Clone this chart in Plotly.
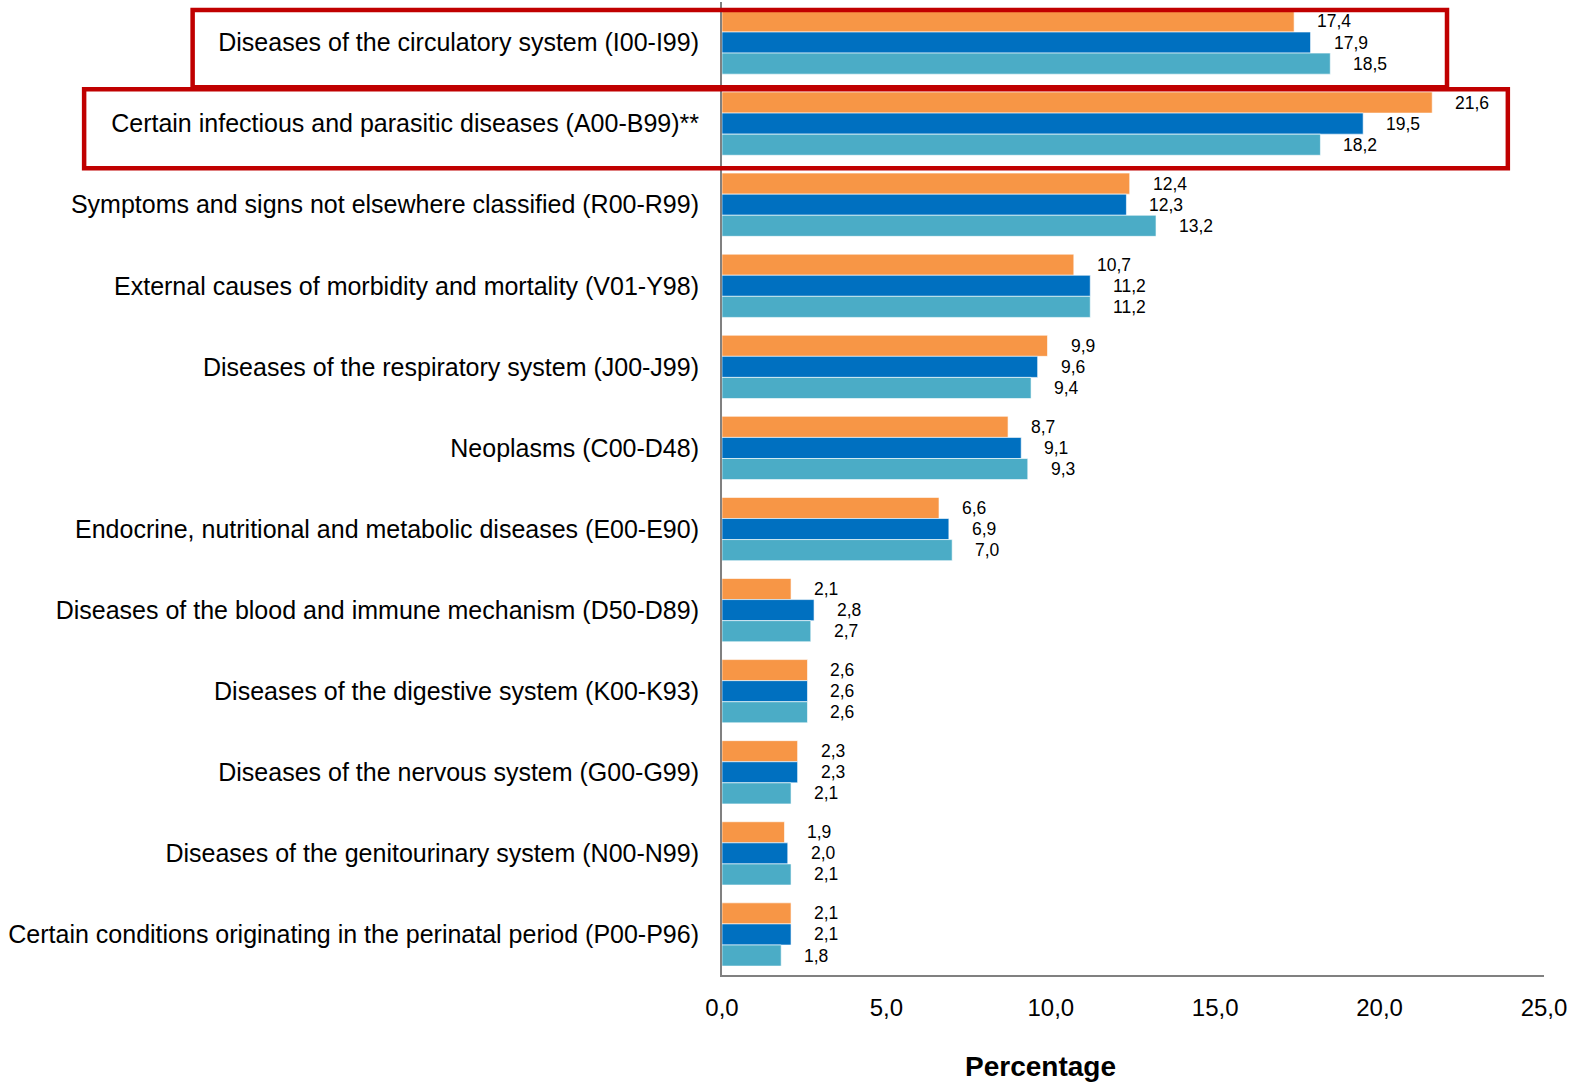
import plotly.graph_objects as go

# Causes of death by ICD-10 chapter, share of all deaths (%)
categories = [
    "Diseases of the circulatory system (I00-I99)",
    "Certain infectious and parasitic diseases (A00-B99)**",
    "Symptoms and signs not elsewhere classified (R00-R99)",
    "External causes of morbidity and mortality (V01-Y98)",
    "Diseases of the respiratory system (J00-J99)",
    "Neoplasms (C00-D48)",
    "Endocrine, nutritional and metabolic diseases (E00-E90)",
    "Diseases of the blood and immune mechanism (D50-D89)",
    "Diseases of the digestive system (K00-K93)",
    "Diseases of the nervous system (G00-G99)",
    "Diseases of the genitourinary system (N00-N99)",
    "Certain conditions originating in the perinatal period (P00-P96)",
]
series_a = [17.4, 21.6, 12.4, 10.7, 9.9, 8.7, 6.6, 2.1, 2.6, 2.3, 1.9, 2.1]
series_b = [17.9, 19.5, 12.3, 11.2, 9.6, 9.1, 6.9, 2.8, 2.6, 2.3, 2.0, 2.1]
series_c = [18.5, 18.2, 13.2, 11.2, 9.4, 9.3, 7.0, 2.7, 2.6, 2.1, 2.1, 1.8]
series_names = ["Series A", "Series B", "Series C"]
series_colors = ["#F79646", "#0070C0", "#4BACC6"]
x_ticks = [0, 5, 10, 15, 20, 25]

FONT = "Liberation Sans, Arial, sans-serif"
BARGAP = 0.22
X_MAX = 25

W, H = 1591, 1084
L, R, T, B = 721.5, 47, 2, 109
PLOT_H = H - T - B

fig = go.Figure()
all_series = [series_a, series_b, series_c]
for name, vals, col in zip(series_names, all_series, series_colors):
    fig.add_trace(go.Bar(
        y=categories, x=vals, orientation="h", name=name,
        marker=dict(color=col, line=dict(color="rgba(255,255,255,0.6)", width=1)),
        showlegend=False,
    ))

# value labels placed just right of each bar end
n = len(all_series)
bw = (1 - BARGAP) / n
annotations = []
for si, vals in enumerate(all_series):
    off = -(1 - BARGAP) / 2 + bw * (si + 0.5)
    for ci, v in enumerate(vals):
        annotations.append(dict(
            x=v, y=ci + off, xref="x", yref="y",
            text=f"{v:.1f}".replace(".", ","), showarrow=False,
            xanchor="left", yanchor="middle", xshift=21,
            font=dict(family=FONT, size=17.5, color="#000000"),
        ))

# x-axis title, placed below the tick labels
annotations.append(dict(
    x=(1040 - L) / (W - L - R), y=(H - B - 1066) / PLOT_H,
    xref="paper", yref="paper", text="<b>Percentage</b>",
    showarrow=False, xanchor="center", yanchor="middle",
    font=dict(family=FONT, size=28, color="#000000"),
))

# red frames around the first two categories (category index span, x in data units)
n_cat = len(categories)
frames = [
    dict(x0=-16.1, x1=22.05, c0=-0.40, c1=0.55),
    dict(x0=-19.4, x1=23.9, c0=0.575, c1=1.55),
]
shapes = []
for fr in frames:
    shapes.append(dict(
        type="rect", xref="paper", yref="paper", layer="above",
        x0=fr["x0"] / X_MAX, x1=fr["x1"] / X_MAX,
        y0=1 - (fr["c0"] + 0.5) / n_cat, y1=1 - (fr["c1"] + 0.5) / n_cat,
        line=dict(color="#C00000", width=4.5), fillcolor="rgba(0,0,0,0)",
    ))

fig.update_layout(
    width=W, height=H,
    margin=dict(l=L, r=R, t=T, b=B, pad=0),
    paper_bgcolor="white", plot_bgcolor="white",
    barmode="group", bargap=BARGAP, bargroupgap=0,
    separators=",.",
    annotations=annotations, shapes=shapes,
    font=dict(family=FONT, color="#000000"),
)
fig.update_xaxes(
    range=[0, X_MAX], tickvals=x_ticks, tickformat=".1f",
    showgrid=False, zeroline=False,
    showline=True, linecolor="#808080", linewidth=2,
    ticks="", ticklabelstandoff=10,
    tickfont=dict(family=FONT, size=24, color="#000000"),
)
fig.update_yaxes(
    autorange="reversed", showgrid=False,
    showline=True, linecolor="#808080", linewidth=2,
    ticks="", ticklabelstandoff=16,
    tickfont=dict(family=FONT, size=25, color="#000000"),
)

fig.write_html("out.html")
